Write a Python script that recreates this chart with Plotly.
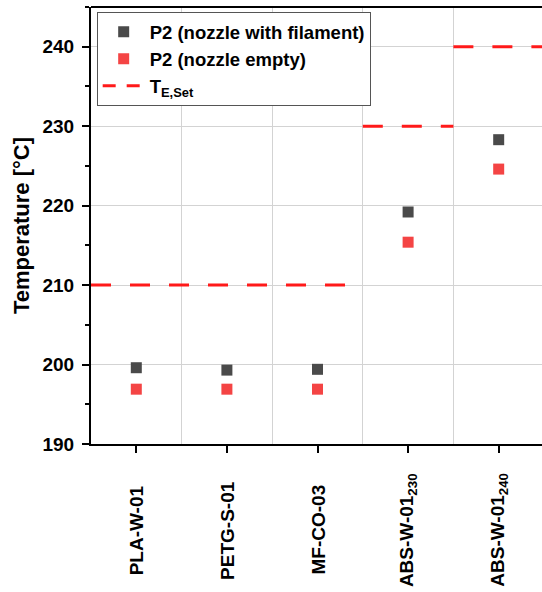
import plotly.graph_objects as go

categories = ["PLA-W-01", "PETG-S-01", "MF-CO-03", "ABS-W-01<sub>230</sub>", "ABS-W-01<sub>240</sub>"]
p2_filament = [199.6, 199.3, 199.4, 219.2, 228.3]
p2_empty = [196.9, 196.9, 196.9, 215.4, 224.6]
t_set = [210, 210, 210, 230, 240]

xpos = list(range(1, len(categories) + 1))

# build set-point segments (merge consecutive equal values)
seg_x, seg_y = [], []
i = 0
while i < len(t_set):
    j = i
    while j + 1 < len(t_set) and t_set[j + 1] == t_set[i]:
        j += 1
    x_end = xpos[j] + 0.5 if j < len(t_set) - 1 else xpos[j] + 1.5
    seg_x += [xpos[i] - 0.5, x_end, None]
    seg_y += [t_set[i], t_set[i], None]
    i = j + 1

FONT = "Liberation Sans, Arial, sans-serif"
RED_LINE = "#ff1a1a"

fig = go.Figure()
fig.add_trace(go.Scatter(
    x=xpos, y=p2_filament, mode="markers", name="<b>P2 (nozzle with filament)</b>",
    marker=dict(symbol="square", size=11, color="#4a4a4a"),
))
fig.add_trace(go.Scatter(
    x=xpos, y=p2_empty, mode="markers", name="<b>P2 (nozzle empty)</b>",
    marker=dict(symbol="square", size=11, color="#f44444"),
))
fig.add_trace(go.Scatter(
    x=seg_x, y=seg_y, mode="lines", name="<b>T<sub>E,Set</sub></b>",
    line=dict(color=RED_LINE, width=3, dash="20px,19px"),
    showlegend=False, legendgroup="tset",
))
# legend entry for the set-point line (shorter dashes, as in the original key)
fig.add_trace(go.Scatter(
    x=[None], y=[None], mode="lines", name="<b>T<sub>E,Set</sub></b>",
    line=dict(color=RED_LINE, width=3, dash="13px,11px"),
    legendgroup="tset",
))

# centred, rotated category labels below the axis
annotations = [
    dict(x=xv, y=0, xref="x", yref="paper", yshift=-86,
         text="<b>%s</b>" % c, textangle=-90, showarrow=False,
         xanchor="center", yanchor="middle",
         font=dict(family=FONT, size=19, color="black"))
    for xv, c in zip(xpos, categories)
]

fig.update_layout(
    width=542, height=592,
    margin=dict(l=91, r=0, t=7, b=148, autoexpand=False),
    paper_bgcolor="white", plot_bgcolor="white",
    font=dict(family=FONT, color="black", size=18),
    showlegend=True,
    legend=dict(
        x=0.0126, y=0.988, xanchor="left", yanchor="top",
        bgcolor="white", bordercolor="#555555", borderwidth=1,
        font=dict(family=FONT, size=18.5, color="black"),
        itemwidth=42, tracegroupgap=0,
    ),
    xaxis=dict(
        range=[0.5, 5.478], automargin=False,
        tickmode="array", tickvals=xpos, showticklabels=False,
        ticks="outside", ticklen=7, tickwidth=2, tickcolor="black",
        showgrid=False, zeroline=False,
        showline=True, linecolor="black", linewidth=2,
        minor=dict(tickvals=[1.5, 2.5, 3.5, 4.5], showgrid=True,
                   gridcolor="#d3d3d3", gridwidth=1, ticks=""),
    ),
    yaxis=dict(
        range=[190, 245], tick0=190, dtick=10, automargin=False,
        tickfont=dict(family=FONT, size=19, color="black"),
        tickprefix="<b>", ticksuffix="</b>",
        ticks="outside", ticklen=7, tickwidth=2, tickcolor="black",
        ticklabelstandoff=4,
        showgrid=True, gridcolor="#d3d3d3", gridwidth=1,
        zeroline=False,
        showline=True, linecolor="black", linewidth=2,
        minor=dict(dtick=5, ticks="outside", ticklen=4, tickwidth=2,
                   tickcolor="black", showgrid=False),
        title=dict(text="<b>Temperature [°C]</b>",
                   font=dict(family=FONT, size=22, color="black"), standoff=7),
    ),
    annotations=annotations,
    shapes=[dict(type="line", xref="paper", yref="paper", x0=0, x1=1, y0=1, y1=1,
                 line=dict(color="black", width=2))],
)

fig.write_html("out.html", config={"displayModeBar": False},
               post_script="document.body.style.margin='0';document.body.style.overflow='hidden';")
